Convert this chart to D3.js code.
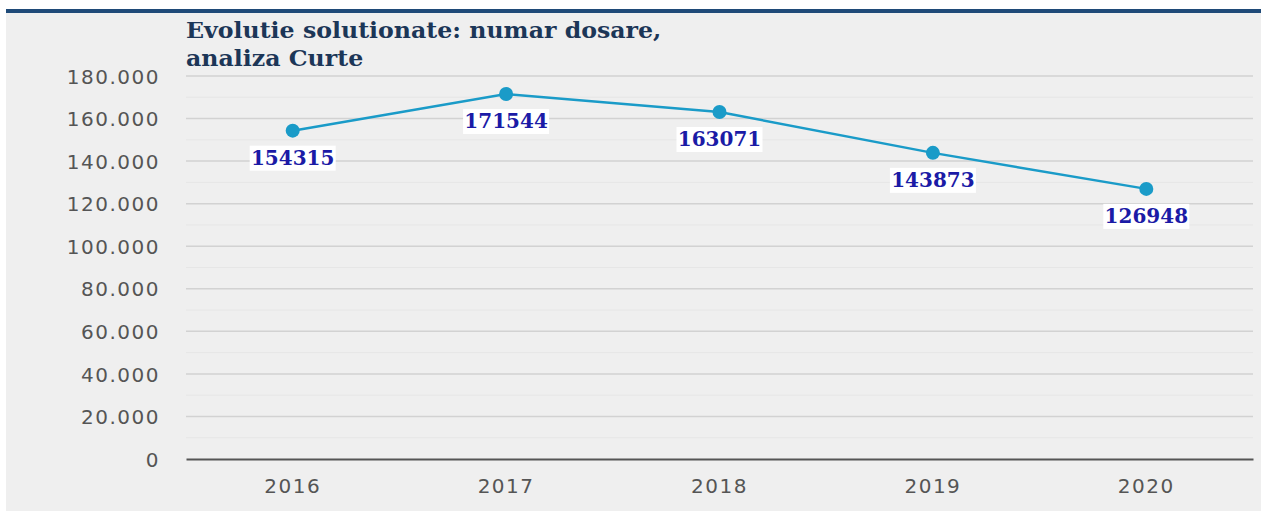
<!DOCTYPE html>
<html>
<head>
<meta charset="utf-8">
<script src="https://cdn.jsdelivr.net/npm/d3@7"></script>
<style>
    html, body { margin: 0; padding: 0; background: #fff; }
    #chart { width: 1261px; height: 511px; }
</style>
</head>
<body>
<div id="chart"></div>
<script>
// data
const years = ["2016", "2017", "2018", "2019", "2020"];
const solved = [154315, 171544, 163071, 143873, 126948];
const titleLines = ["Evolutie solutionate: numar dosare,", "analiza Curte"];
const majorTicks = [0, 20000, 40000, 60000, 80000, 100000, 120000, 140000, 160000, 180000];
const minorTicks = [10000, 30000, 50000, 70000, 90000, 110000, 130000, 150000, 170000];

const COLORS = {
    bg: "#efefef",
    topRule: "#1f4a78",
    title: "#1c3657",
    axisText: "#555",
    gridMajor: "#d2d2d2",
    gridMinor: "#e6e6e6",
    baseline: "#555",
    line: "#1a9bc8",
    label: "#1b1ba6"
};

const width = 1261, height = 511;
const margin = { top: 76, right: 8, bottom: 52, left: 186 };

const svg = d3.select("#chart")
    .append("svg")
    .attr("width", width)
    .attr("height", height);

// panel background + top rule
svg.append("rect")
    .attr("x", 6).attr("y", 12)
    .attr("width", width - 6).attr("height", height - 12)
    .attr("fill", COLORS.bg);
svg.append("rect")
    .attr("x", 6).attr("y", 9)
    .attr("width", width - 6).attr("height", 4)
    .attr("fill", COLORS.topRule);

const x = d3.scaleBand()
    .domain(years)
    .range([margin.left, width - margin.right]);

const y = d3.scaleLinear()
    .domain([0, 180000])
    .range([height - margin.bottom, margin.top]);

const roFormat = d3.formatLocale({ decimal: ",", thousands: ".", grouping: [3], currency: ["", ""] }).format(",");

// gridlines
svg.append("g")
    .selectAll("line")
    .data(minorTicks)
    .join("line")
    .attr("x1", x.range()[0]).attr("x2", x.range()[1])
    .attr("y1", d => y(d)).attr("y2", d => y(d))
    .attr("stroke", COLORS.gridMinor)
    .attr("stroke-width", 1);

svg.append("g")
    .selectAll("line")
    .data(majorTicks.filter(d => d > 0))
    .join("line")
    .attr("x1", x.range()[0]).attr("x2", x.range()[1])
    .attr("y1", d => y(d)).attr("y2", d => y(d))
    .attr("stroke", COLORS.gridMajor)
    .attr("stroke-width", 1.5);

// y axis labels
const yAxis = svg.append("g")
    .attr("transform", `translate(${margin.left - 26},0)`)
    .call(d3.axisLeft(y).tickValues(majorTicks).tickFormat(roFormat).tickSize(0).tickPadding(0));
yAxis.select(".domain").remove();
yAxis.selectAll("text")
    .attr("fill", COLORS.axisText)
    .style("font-family", "'DejaVu Sans', sans-serif")
    .style("font-size", "20px")
    .style("letter-spacing", "1.5px")
    .attr("dy", "0.36em");

// x axis
const xAxis = svg.append("g")
    .attr("transform", `translate(0,${y(0)})`)
    .call(d3.axisBottom(x).tickSize(0).tickPadding(20));
xAxis.select(".domain")
    .attr("stroke", COLORS.baseline)
    .attr("stroke-width", 2);
xAxis.selectAll("text")
    .attr("fill", COLORS.axisText)
    .style("font-family", "'DejaVu Sans', sans-serif")
    .style("font-size", "20px")
    .style("letter-spacing", "1.5px");

// title, slightly stretched horizontally like the original
svg.append("g")
    .attr("transform", `translate(${margin.left},0) scale(1.1,1)`)
    .selectAll("text")
    .data(titleLines)
    .join("text")
    .attr("x", 0)
    .attr("y", (d, i) => 38 + i * 28)
    .attr("fill", COLORS.title)
    .style("font-family", "'DejaVu Serif', serif")
    .style("font-weight", "bold")
    .style("font-size", "21.5px")
    .text(d => d);

// line + points
const pts = years.map((yr, i) => ({ year: yr, value: solved[i] }));
const cx = d => x(d.year) + x.bandwidth() / 2;

svg.append("path")
    .datum(pts)
    .attr("fill", "none")
    .attr("stroke", COLORS.line)
    .attr("stroke-width", 2.5)
    .attr("d", d3.line().x(cx).y(d => y(d.value)));

svg.append("g")
    .selectAll("circle")
    .data(pts)
    .join("circle")
    .attr("cx", cx)
    .attr("cy", d => y(d.value))
    .attr("r", 7)
    .attr("fill", COLORS.line);

// data labels on white boxes
const lbl = svg.append("g")
    .selectAll("g")
    .data(pts)
    .join("g")
    .attr("transform", d => `translate(${cx(d)},${y(d.value) + 27})`);

lbl.append("rect")
    .attr("x", -43).attr("y", -12)
    .attr("width", 86).attr("height", 25)
    .attr("fill", "#fff");

lbl.append("text")
    .attr("text-anchor", "middle")
    .attr("dy", "0.37em")
    .attr("fill", COLORS.label)
    .style("font-family", "'DejaVu Serif', serif")
    .style("font-weight", "bold")
    .style("font-size", "20px")
    .text(d => d.value);
</script>
</body>
</html>
